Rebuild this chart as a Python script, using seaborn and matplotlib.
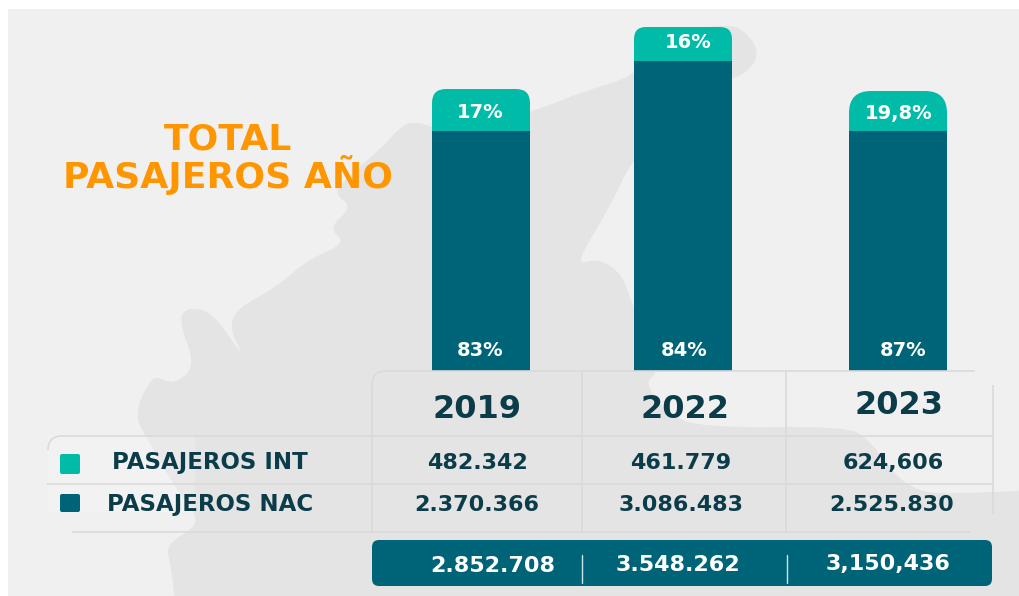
import matplotlib
matplotlib.use('Agg')
import matplotlib.pyplot as plt
import seaborn as sns
from matplotlib.patches import FancyBboxPatch, Rectangle, PathPatch
from matplotlib.path import Path
from matplotlib.transforms import IdentityTransform

# Chart values
years = ['2019', '2022', '2023']
# bar heights as drawn in the picture, thousands of passengers (not proportional to the table)
bar_total = [2820, 3440, 2800]
bar_nac = [2400, 3100, 2400]
pct_int = ['17%', '16%', '19,8%']
pct_nac = ['83%', '84%', '87%']
row_labels = ['PASAJEROS INT', 'PASAJEROS NAC']
values_int = ['482.342', '461.779', '624,606']
values_nac = ['2.370.366', '3.086.483', '2.525.830']
values_total = ['2.852.708', '3.548.262', '3,150,436']

TEAL = '#00BBA7'
DARK = '#006478'
INK = '#0B3C49'
ORANGE = '#FF9600'
PANEL = '#F0F0F0'
MAP = '#E4E4E4'
GRID = '#DADADA'

W, H = 1019, 596
# Background silhouette outline, in pixels (used as bezier control points)
map_outline = [(185, 700), (172, 567), (165, 545), (196, 527), (195, 513), (170, 480), (148, 440), (134, 415),
               (148, 383), (157, 376), (173, 385), (196, 367), (180, 325), (183, 309), (205, 309), (222, 325),
               (246, 362), (224, 316), (277, 287), (307, 260), (347, 243), (328, 228), (353, 207), (333, 193),
               (350, 175), (380, 150), (403, 124), (418, 122), (440, 130), (500, 116), (530, 113), (587, 90),
               (633, 77), (680, 32), (725, 24), (745, 30), (760, 53), (748, 72), (731, 79), (690, 100), (633, 157),
               (610, 207), (574, 266), (597, 258), (622, 273), (633, 307), (660, 372), (644, 382), (665, 412),
               (700, 428), (847, 426), (870, 440), (908, 492), (967, 494), (1100, 486), (1100, 700)]

sns.set_theme(style='white')
plt.rcParams['font.family'] = ['DejaVu Sans']

fig = plt.figure(figsize=(W / 100, H / 100), dpi=100, facecolor='white')


# Pixel axes, y going down
def pixel_axes(zorder):
    a = fig.add_axes([0, 0, 1, 1], zorder=zorder)
    a.set_xlim(0, W)
    a.set_ylim(H, 0)
    a.axis('off')
    a.patch.set_alpha(0)
    return a


# Closed smooth curve: midpoints on the curve, outline points as controls
def smooth_path(points):
    n = len(points)
    mid = [((points[i][0] + points[(i + 1) % n][0]) / 2, (points[i][1] + points[(i + 1) % n][1]) / 2) for i in range(n)]
    verts = [mid[-1]]
    codes = [Path.MOVETO]
    for i in range(n):
        verts += [points[i], mid[i]]
        codes += [Path.CURVE3, Path.CURVE3]
    return Path(verts, codes)


bg = pixel_axes(0)
panel = Rectangle((8, 9), W - 8, H - 9, color=PANEL, lw=0)
bg.add_patch(panel)
shape = PathPatch(smooth_path(map_outline), color=MAP, lw=0)
bg.add_patch(shape)
shape.set_clip_path(panel)
# the row header area is a little lighter than the panel
bg.add_patch(Rectangle((48, 436), 147, 77, color='white', alpha=0.2, lw=0))

# Bars: baseline at pixel 371, 10 units per pixel, columns 208.5 px apart
ax = fig.add_axes([0, (H - 371) / H, 1, 371 / H], zorder=1)
sns.barplot(x=years, y=bar_total, color=TEAL, width=98 / 208.5, saturation=1, linewidth=0, ax=ax)
sns.barplot(x=years, y=bar_nac, color=DARK, width=98 / 208.5, saturation=1, linewidth=0, ax=ax)
ax.set_xlim(-481 / 208.5, (W - 481) / 208.5)
ax.set_ylim(0, 3710)
ax.axis('off')
ax.patch.set_alpha(0)

# the middle column sits a bit left of even spacing
for p in [ax.patches[1], ax.patches[4]]:
    p.set_x(p.get_x() - 6.5 / 208.5)

# Rounded top on the teal segments only
for p, r in zip(ax.patches[:3], [14, 12, 22]):
    (x0, y0), (x1, y1) = ax.transData.transform([(p.get_x(), 0), (p.get_x() + p.get_width(), p.get_height())])
    clip = FancyBboxPatch((x0, y0 - 50), x1 - x0, y1 - y0 + 50, boxstyle=f'round,pad=0,rounding_size={r}',
                          transform=IdentityTransform())
    p.set_clip_path(clip)

top = pixel_axes(2)

# Title
top.text(228, 140, 'TOTAL', color=ORANGE, fontsize=26, fontweight='bold', ha='center', va='center')
top.text(228, 175, 'PASAJEROS AÑO', color=ORANGE, fontsize=26, fontweight='bold', ha='center', va='center')

# Percent labels on the bars
for label, x, y in zip(pct_int, [480, 688, 899], [112, 43, 114]):
    top.text(x, y, label, color='white', fontsize=14, fontweight='bold', ha='center', va='center')
for label, x in zip(pct_nac, [480, 684, 903]):
    top.text(x, 350, label, color='white', fontsize=14, fontweight='bold', ha='center', va='center')

# Table rules
for x0, y0, x1, y1 in [(386, 371, 975, 371), (62, 436, 993, 436), (47, 484, 993, 484), (72, 532, 970, 532),
                       (372, 385, 372, 532), (582, 371, 582, 532), (786, 371, 786, 532), (993, 385, 993, 514)]:
    top.plot([x0, x1], [y0, y1], color=GRID, lw=1.2, solid_capstyle='butt')
for (xa, ya), (xb, yb), (xc, yc) in [((372, 385), (372, 371), (386, 371)), ((48, 450), (48, 436), (62, 436))]:
    path = Path([(xa, ya), (xb, yb), (xc, yc)], [Path.MOVETO, Path.CURVE3, Path.CURVE3])
    top.add_patch(PathPatch(path, fc='none', ec=GRID, lw=1.2))

# Table text
for label, x, y in zip(years, [477, 685, 899], [409, 409, 406]):
    top.text(x, y, label, color=INK, fontsize=23, fontweight='bold', ha='center', va='center')
for label, x in zip(values_int, [477, 681, 893]):
    top.text(x, 463, label, color=INK, fontsize=16, fontweight='bold', ha='center', va='center')
for label, x in zip(values_nac, [477, 681, 892]):
    top.text(x, 505, label, color=INK, fontsize=16, fontweight='bold', ha='center', va='center')

# Legend swatches and row names
for color, y0, y1 in [(TEAL, 454, 474), (DARK, 494, 512)]:
    top.add_patch(FancyBboxPatch((60, y0), 20, y1 - y0, boxstyle='round,pad=0,rounding_size=2', color=color, lw=0))
for label, y in zip(row_labels, [463, 505]):
    top.text(210, y, label, color=INK, fontsize=16.5, fontweight='bold', ha='center', va='center')

# Totals strip
top.add_patch(FancyBboxPatch((372, 540), 620, 46, boxstyle='round,pad=0,rounding_size=7', color=DARK, lw=0))
for x in [582, 787]:
    top.plot([x, x], [555, 583], color='#CFE3E6', lw=1)
for label, x, y in zip(values_total, [493, 678, 888], [566, 565, 564]):
    top.text(x, y, label, color='white', fontsize=16, fontweight='bold', ha='center', va='center')

fig.savefig('out.png', dpi=100)
